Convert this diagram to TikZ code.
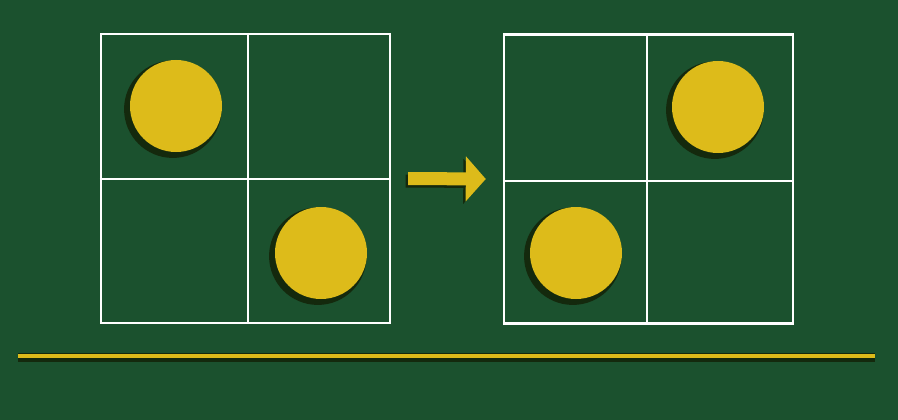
\documentclass[tikz,border=0pt]{standalone}
\usepackage{xcolor}
\usepackage{tikz}
\usetikzlibrary{arrows.meta,shadows}
\definecolor{boardgreen}{HTML}{1B512E}
\definecolor{discyellow}{HTML}{DDBB1A}
\definecolor{discshade}{HTML}{14290D}

\begin{document}
\begin{tikzpicture}[x=1pt,y=-1pt,
  board/.style={draw=white, line width=2.4pt, minimum width=289pt, minimum height=289pt, inner sep=0pt},
  disc/.style={circle, fill=discyellow, minimum size=92pt, inner sep=0pt,
    general shadow={fill=discshade, shadow xshift=-3pt, shadow yshift=-3pt, shadow scale=1.06}}]
\fill[boardgreen] (0,0) rectangle (898,420);
\useasboundingbox (0,0) rectangle (898,420);
% the two boards, before and after
\node[board] (before) at (245.5,178.5) {};
\node[board] (after) at (648.5,179) {};
\draw[white, line width=2pt] ([xshift=2.5pt]before.north) -- ([xshift=2.5pt]before.south);
\draw[white, line width=2pt] (before.west) -- (before.east);
\draw[white, line width=2pt] ([xshift=-1.5pt]after.north) -- ([xshift=-1.5pt]after.south);
\draw[white, line width=2pt] ([yshift=-2pt]after.west) -- ([yshift=-2pt]after.east);
% discs
\foreach \name/\x/\y in {beforeA/176/106,beforeB/321/253,afterA/718/107,afterB/576/253}{
  \node[disc] (\name) at (\x,\y) {};
}
% move arrow
\coordinate (arrowstart) at ([xshift=17pt]before.east);
\coordinate (arrowend) at ([xshift=-17pt]after.west);
\draw[discshade, line width=13pt, -{Triangle[length=20pt,width=44pt]}]
  ([xshift=-2.5pt,yshift=-2.5pt]arrowstart) -- ([xshift=-2.5pt,yshift=-2.5pt]arrowend);
\draw[discyellow, line width=13pt, -{Triangle[length=20pt,width=44pt]}] (arrowstart) -- (arrowend);
% base line
\coordinate (ruleleft) at (18,356);
\coordinate (ruleright) at (875,356);
\draw[discshade, line width=9pt] ([yshift=-1pt]ruleleft) -- ([yshift=-1pt]ruleright);
\draw[discyellow, line width=4pt] (ruleleft) -- (ruleright);
\end{tikzpicture}
\end{document}
